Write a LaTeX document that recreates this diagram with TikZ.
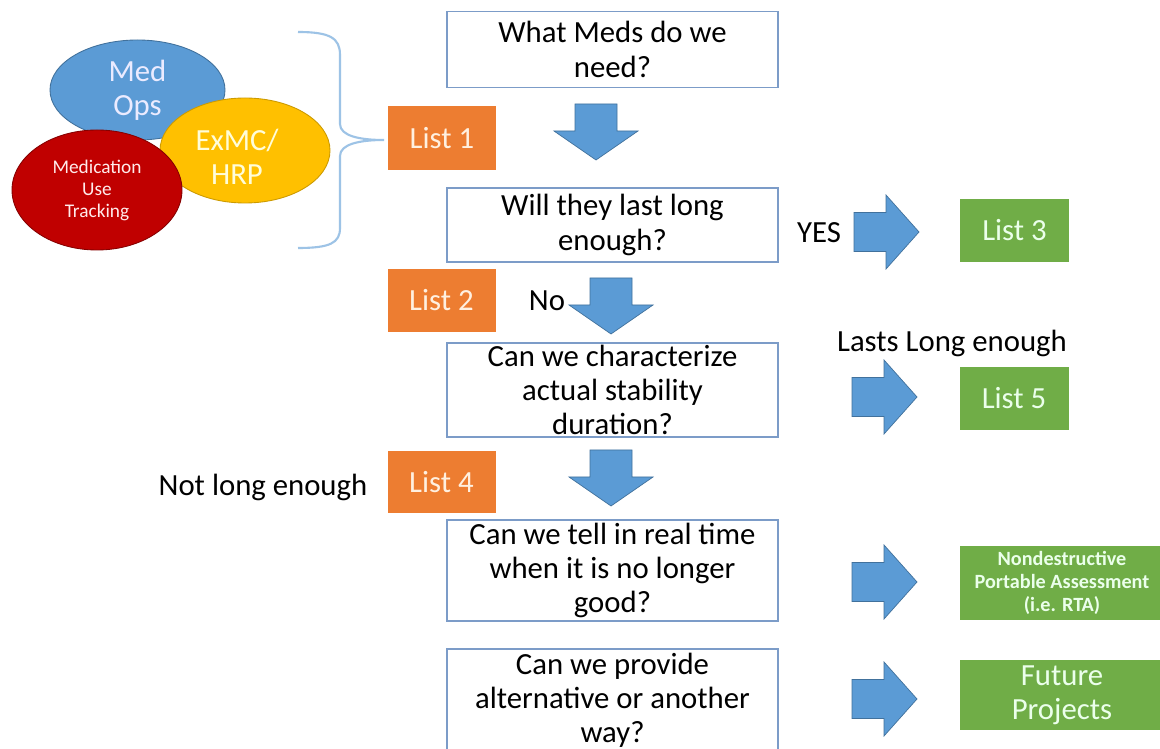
\documentclass[tikz,border=0pt]{standalone}
\usepackage{fontspec}
\setmainfont{Carlito}
\usetikzlibrary{shapes,positioning}

\definecolor{boxblue}{RGB}{124,156,200}
\definecolor{arrowblue}{RGB}{91,155,213}
\definecolor{arrowedge}{RGB}{65,113,156}
\definecolor{listorange}{RGB}{237,125,49}
\definecolor{listgreen}{RGB}{112,173,71}
\definecolor{medred}{RGB}{192,0,0}
\definecolor{exgold}{RGB}{255,192,0}
\definecolor{bracecol}{RGB}{157,195,230}

\tikzset{
  bigtext/.style={font=\fontsize{17.5}{19.5}\selectfont},
  question/.style={bigtext, draw=boxblue, line width=1pt, fill=white, minimum width=66.2mm, align=center, inner sep=0pt},
  orangelist/.style={bigtext, fill=listorange, text=orange!12, minimum width=21.6mm, minimum height=12.7mm},
  greenlist/.style={bigtext, fill=listgreen, text=green!8, minimum width=21.8mm, minimum height=12.6mm, align=center},
  note/.style={bigtext, text=black},
  blob/.style={ellipse, inner sep=0pt, align=center, line width=0.5pt},
  darrow/.pic={\filldraw[fill=arrowblue, draw=arrowedge, line width=0.4pt]
    (-21,0) -- (21,0) -- (21,27) -- (42,27) -- (0,56) -- (-42,27) -- (-21,27) -- cycle;},
  rarrow/.pic={\filldraw[fill=arrowblue, draw=arrowedge, line width=0.4pt]
    (0,-19.5) -- (32,-19.5) -- (32,-37) -- (65,0) -- (32,37) -- (32,19.5) -- (0,19.5) -- cycle;}
}

\begin{document}
\begin{tikzpicture}[x=0.2mm, y=-0.2mm]
   \useasboundingbox[fill=white] (0,0) rectangle (1160,749);

   % who asks
   \node[blob, fill=arrowblue, draw=arrowedge, text=blue!8, minimum width=35mm, minimum height=20mm, bigtext] (medops) at (137.5,90) {Med\\Ops};
   \node[blob, fill=exgold, draw=exgold!80!black, minimum width=34mm, minimum height=21mm] (exmc) at (245,150.5) {};
   \node[bigtext, text=yellow!15, align=center] (exmctext) at (237,157) {ExMC/\\HRP};
   \node[blob, fill=medred, draw=medred!70!black, text=red!8, minimum width=34mm, minimum height=24mm, font=\fontsize{11}{12.5}\selectfont] (tracking) at (97,190) {Medication\\Use\\Tracking};

   \draw[bracecol, line width=1.2pt] (298,32) .. controls (330,32) and (340,38) .. (340,55) -- (340,124)
      .. controls (340,136) and (360,140) .. (384,140)
      .. controls (360,140) and (340,144) .. (340,156) -- (340,228)
      .. controls (340,243) and (330,248) .. (298,248);

   % questions
   \node[question, minimum height=15.2mm] (q1) at (612.5,49.5) {What Meds do we\\need?};
   \node[question, minimum height=14.8mm] (q2) at (612.5,225) {Will they last long\\enough?};
   \node[question, minimum height=18.8mm] (q3) at (612.5,390) {Can we characterize\\actual stability\\duration?};
   \node[question, minimum height=20.2mm] (q4) at (612.5,570.5) {Can we tell in real time\\when it is no longer\\good?};
   \node[question, minimum height=20.6mm] (q5) at (612.5,700.5) {Can we provide\\alternative or another\\way?};

   % lists
   \node[orangelist] (list1) at (442,138) {List 1};
   \node[orangelist] (list2) at (441.5,300.5) {List 2};
   \node[orangelist, minimum height=12.4mm] (list4) at (441.5,482) {List 4};
   \node[greenlist] (list3) at (1014.5,230.5) {List 3};
   \node[greenlist] (list5) at (1014,398.5) {List 5};
   \node[greenlist, minimum width=40.8mm, font=\fontsize{11.5}{13}\selectfont\bfseries] (nda) at (1062,583) {Nondestructive\\Portable Assessment\\(i.e. RTA)};
   \node[greenlist, minimum width=40.8mm, minimum height=12.8mm] (future) at (1062,695) {Future\\Projects};

   \node[note] (yes) at (819,233) {YES};
   \node[note] (no) at (547,301) {No};
   \node[note] (lastslong) at (952,343) {Lasts Long enough};
   \node[note] (notlong) at (263,487) {Not long enough};

   % block arrows
   \pic (down1) at (596,104) {darrow};
   \pic (down2) at (611,278) {darrow};
   \pic (down3) at (611,450) {darrow};
   \pic (right2) at (854,232) {rarrow};
   \pic (right3) at (852,397) {rarrow};
   \pic (right4) at (852,582) {rarrow};
   \pic (right5) at (852,699) {rarrow};
\end{tikzpicture}
\end{document}
